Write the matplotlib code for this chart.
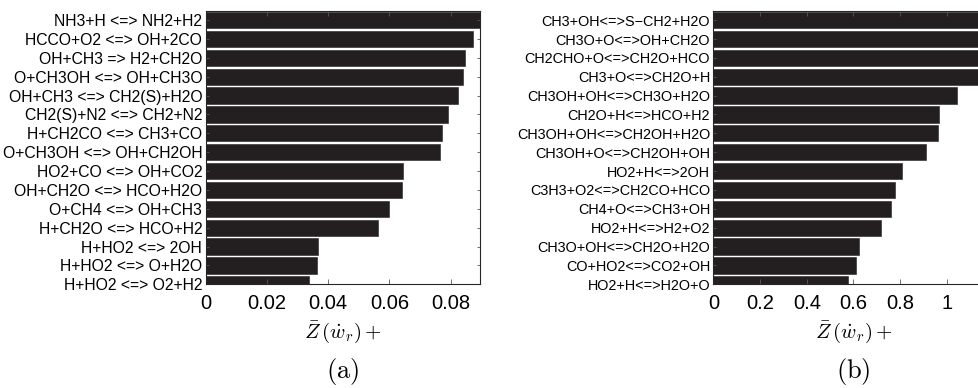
import numpy as np
import matplotlib
matplotlib.use('Agg')
import matplotlib.pyplot as plt
from matplotlib.ticker import FormatStrFormatter

plt.rcParams['font.family'] = ['Liberation Sans', 'DejaVu Sans']
plt.rcParams['mathtext.fontset'] = 'cm'

# panel (a): reacciones ordenadas de arriba hacia abajo
reac_a = ['NH3+H <=> NH2+H2', 'HCCO+O2 <=> OH+2CO', 'OH+CH3 => H2+CH2O',
          'O+CH3OH <=> OH+CH3O', 'OH+CH3 <=> CH2(S)+H2O', 'CH2(S)+N2 <=> CH2+N2',
          'H+CH2CO <=> CH3+CO', 'O+CH3OH <=> OH+CH2OH', 'HO2+CO <=> OH+CO2',
          'OH+CH2O <=> HCO+H2O', 'O+CH4 <=> OH+CH3', 'H+CH2O <=> HCO+H2',
          'H+HO2 <=> 2OH', 'H+HO2 <=> O+H2O', 'H+HO2 <=> O2+H2']
val_a = [0.0896, 0.0872, 0.0847, 0.0840, 0.0825, 0.0791, 0.0773, 0.0766,
         0.0646, 0.0641, 0.0600, 0.0562, 0.0368, 0.0365, 0.0337]

# panel (b)
reac_b = ['CH3+OH<=>S\u2212CH2+H2O', 'CH3O+O<=>OH+CH2O', 'CH2CHO+O<=>CH2O+HCO',
          'CH3+O<=>CH2O+H', 'CH3OH+OH<=>CH3O+H2O', 'CH2O+H<=>HCO+H2',
          'CH3OH+OH<=>CH2OH+H2O', 'CH3OH+O<=>CH2OH+OH', 'HO2+H<=>2OH',
          'C3H3+O2<=>CH2CO+HCO', 'CH4+O<=>CH3+OH', 'HO2+H<=>H2+O2',
          'CH3O+OH<=>CH2O+H2O', 'CO+HO2<=>CO2+OH', 'HO2+H<=>H2O+O']
val_b = [1.20, 1.18, 1.16, 1.15, 1.042, 0.968, 0.962, 0.911, 0.809, 0.779,
         0.761, 0.717, 0.624, 0.611, 0.576]

W, H = 979, 388
fig = plt.figure(figsize=(W / 100, H / 100), dpi=100)

def panel(rect, reac, val, xticks, fmt, letra, fs_lab):
    ax = fig.add_axes(rect)
    n = len(val)
    y = np.arange(n, 0, -1)
    ax.barh(y, val, height=0.86, color='#231f20', edgecolor='#231f20', linewidth=0.4)
    ax.set_ylim(1.0, n + 0.5)
    ax.set_xlim(0, max(val))
    ax.set_yticks(y)
    ax.set_yticklabels(reac, fontsize=fs_lab)
    ax.set_xticks(xticks)
    ax.xaxis.set_major_formatter(FormatStrFormatter(fmt))
    ax.tick_params(axis='x', direction='in', top=True, length=3.5, width=0.6,
                   color='0.35', labelsize=14.5, pad=7)
    ax.tick_params(axis='y', direction='in', right=True, length=2.5, width=0.6,
                   color='0.35', pad=2.5)
    for s in ax.spines.values():
        s.set_linewidth(0.8)
        s.set_color('0.15')
    ax.set_xlabel(r'$\bar{Z}\,(\dot{w}_r)+$', fontsize=15, labelpad=5)
    # etiqueta del panel debajo del eje
    cx = rect[0] + rect[2] / 2
    fig.text(cx, 1 - 387 / H, r'$\mathrm{(' + letra + ')}$',
             ha='center', va='bottom', fontsize=19)
    return ax

top = 1 - 10.7 / H
bot = 1 - 284.3 / H
panel([205.7 / W, bot, (480 - 205.7) / W, top - bot], reac_a, val_a,
      [0, 0.02, 0.04, 0.06, 0.08], '%g', 'a', 11.3)
panel([713.5 / W, bot, 1.20 * 233.3 / W, top - bot], reac_b, val_b,
      [0, 0.2, 0.4, 0.6, 0.8, 1.0], '%g', 'b', 10.4)

fig.savefig('out.png', dpi=100)
